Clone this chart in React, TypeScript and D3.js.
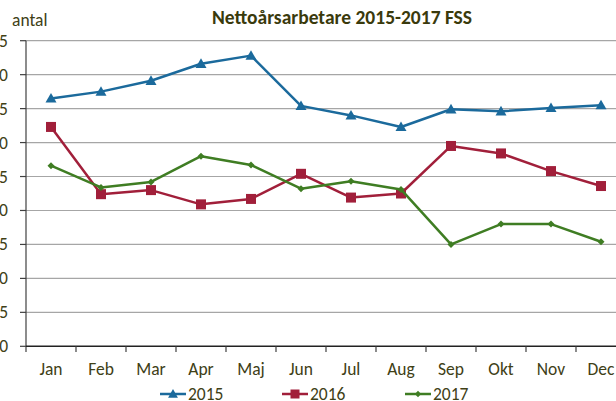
import React from "react";
import * as d3 from "d3";

const months = ["Jan", "Feb", "Mar", "Apr", "Maj", "Jun", "Jul", "Aug", "Sep", "Okt", "Nov", "Dec"];
const s2015 = [36.5, 37.5, 39.1, 41.6, 42.8, 35.4, 34.0, 32.3, 34.9, 34.6, 35.1, 35.5];
const s2016 = [32.3, 22.4, 23.0, 20.9, 21.7, 25.4, 21.9, 22.5, 29.5, 28.4, 25.8, 23.6];
const s2017 = [26.6, 23.4, 24.2, 28.0, 26.7, 23.2, 24.3, 23.1, 15.0, 18.0, 18.0, 15.4];
const yTicks = [0, 5, 10, 15, 20, 25, 30, 35, 40, 45];
const seriesNames = ["2015", "2016", "2017"];

const W = 616, H = 401;
const textColor = "#404016";
const font = "Carlito, 'Liberation Sans', Arial, sans-serif";
const fs = 17.5;

export default function App() {
  const x = d3.scaleBand<string>().domain(months).range([26, 26 + 50 * 12]);
  const y = d3.scaleLinear().domain([0, 45]).range([346.3, 40.7]);
  const line = d3.line<number>().x((_, i) => (x(months[i]) as number) + x.bandwidth() / 2).y((d) => y(d));
  const series = [
    { name: seriesNames[0], data: s2015, color: "#1b6a9c", marker: "tri" },
    { name: seriesNames[1], data: s2016, color: "#a11f3a", marker: "sq" },
    { name: seriesNames[2], data: s2017, color: "#3f7d23", marker: "dia" },
  ];
  const marker = (m: string, cx: number, cy: number, color: string, k: number, s = 1) => {
    if (m === "tri") {
      const r = 5.5 * s;
      return <path key={k} d={`M${cx},${cy - r}L${cx + r},${cy + r * 0.75}L${cx - r},${cy + r * 0.75}Z`} fill={color} />;
    }
    if (m === "sq") {
      const r = 5 * s;
      return <rect key={k} x={cx - r} y={cy - r} width={2 * r} height={2 * r} fill={color} />;
    }
    const r = 3.5 * s;
    return <path key={k} d={`M${cx},${cy - r}L${cx + r},${cy}L${cx},${cy + r}L${cx - r},${cy}Z`} fill={color} />;
  };
  const legendPos = [
    { x1: 160, x2: 186 },
    { x1: 282, x2: 308 },
    { x1: 405, x2: 431 },
  ];
  return (
    <svg width={W} height={H} style={{ position: "absolute", left: 0, top: 0, background: "#fff" }} fontFamily={font}>
      <text x={342} y={24} textAnchor="middle" fontWeight="bold" fontSize={19.5} fill="#3a3a0c">
        Nettoårsarbetare 2015-2017 FSS
      </text>
      <text x={12} y={26} fontSize={fs} fill={textColor}>antal</text>
      {yTicks.map((t) => (
        <g key={t}>
          {t > 0 && <line x1={26} x2={W} y1={y(t)} y2={y(t)} stroke="#a6a6a6" strokeWidth={1.2} />}
          <line x1={20} x2={26} y1={y(t)} y2={y(t)} stroke="#404040" strokeWidth={1.2} />
          <text x={8} y={y(t) + 6} textAnchor="end" fontSize={fs} fill={textColor}>{t}</text>
        </g>
      ))}
      <line x1={26} x2={26} y1={y(45)} y2={352} stroke="#404040" strokeWidth={1.2} />
      <line x1={26} x2={W} y1={y(0)} y2={y(0)} stroke="#222" strokeWidth={1.4} />
      {months.map((m, i) => (
        <g key={m}>
          <line x1={26 + 50 * (i + 1)} x2={26 + 50 * (i + 1)} y1={y(0)} y2={352} stroke="#404040" strokeWidth={1.2} />
          <text x={(x(m) as number) + x.bandwidth() / 2} y={375} textAnchor="middle" fontSize={fs} fill={textColor}>{m}</text>
        </g>
      ))}
      {series.map((s) => (
        <g key={s.name}>
          <path d={line(s.data) as string} fill="none" stroke={s.color} strokeWidth={2.5} strokeLinejoin="round" />
          {s.data.map((v, i) => marker(s.marker, (x(months[i]) as number) + x.bandwidth() / 2, y(v), s.color, i))}
        </g>
      ))}
      {series.map((s, i) => (
        <g key={"lg" + s.name}>
          <line x1={legendPos[i].x1} x2={legendPos[i].x2} y1={394} y2={394} stroke={s.color} strokeWidth={2.5} />
          {marker(s.marker, (legendPos[i].x1 + legendPos[i].x2) / 2, 394, s.color, 99, 0.9)}
          <text x={legendPos[i].x2 + 2} y={400} fontSize={fs} fill={textColor}>{s.name}</text>
        </g>
      ))}
    </svg>
  );
}
